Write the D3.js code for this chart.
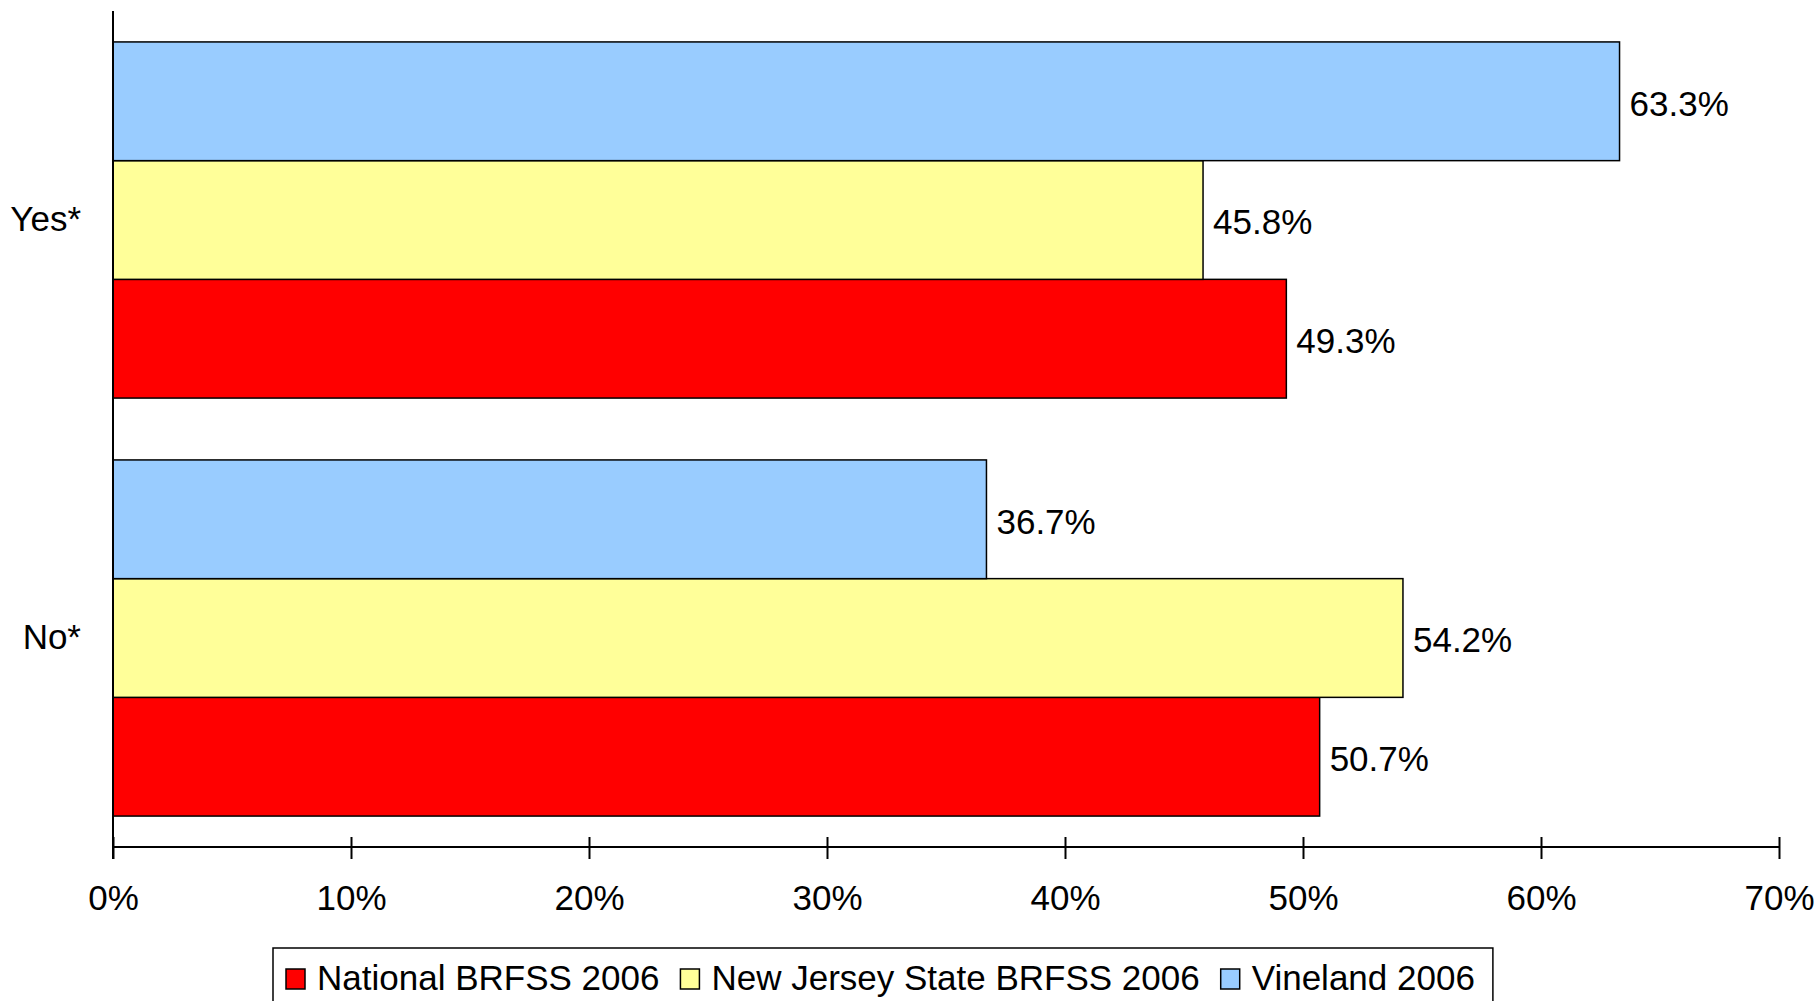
<!DOCTYPE html>
<html>
<head>
<meta charset="utf-8">
<script src="https://cdn.jsdelivr.net/npm/d3@7"></script>
<style>
  html, body { margin: 0; padding: 0; background: #fff; }
  svg { display: block; font-family: "Liberation Sans", Arial, sans-serif; }
</style>
</head>
<body>
<svg id="chart"></svg>
<script>
const categories = ["Yes*", "No*"];
const seriesNames = ["National BRFSS 2006", "New Jersey State BRFSS 2006", "Vineland 2006"];
const seriesColors = ["#ff0000", "#ffff99", "#99ccff"];
const national = [49.3, 50.7];
const newJersey = [45.8, 54.2];
const vineland = [63.3, 36.7];
const xTicks = [0, 10, 20, 30, 40, 50, 60, 70];

const width = 1820;
const height = 1001;
const margin = { top: 11, left: 113, right: 41, bottom: 154 };
const fontSize = "35px";

const svg = d3.select("#chart").attr("width", width).attr("height", height);

const innerWidth = width - margin.left - margin.right;
const innerHeight = height - margin.top - margin.bottom;

const chartArea = svg.append("g").attr("transform", `translate(${margin.left},${margin.top})`);

const seriesValues = [national, newJersey, vineland];

// rows: one per category / series
const rows = [];
categories.forEach((c, i) => {
  seriesNames.forEach((s, j) => {
    rows.push({ cat: c, series: s, idx: j, value: seriesValues[j][i] });
  });
});

const xScale = d3.scaleLinear().domain([0, 70]).range([0, innerWidth]);

const yScale = d3
  .scaleBand()
  .domain(categories)
  .range([0, innerHeight])
  .paddingInner(0.148)
  .paddingOuter(0.074);

// top to bottom: Vineland, New Jersey, National
const inner = d3
  .scaleBand()
  .domain(seriesNames.slice().reverse())
  .range([0, yScale.bandwidth()]);

// Bars
chartArea
  .selectAll(".bar")
  .data(rows)
  .enter()
  .append("rect")
  .attr("class", "bar")
  .attr("x", 0)
  .attr("y", (d) => yScale(d.cat) + inner(d.series))
  .attr("width", (d) => xScale(d.value))
  .attr("height", inner.bandwidth())
  .attr("fill", (d) => seriesColors[d.idx])
  .attr("stroke", "#000")
  .attr("stroke-width", 1.5);

// Value labels
chartArea
  .selectAll(".val")
  .data(rows)
  .enter()
  .append("text")
  .attr("class", "val")
  .attr("x", (d) => xScale(d.value) + 10)
  .attr("y", (d) => yScale(d.cat) + inner(d.series) + inner.bandwidth() / 2 + 2)
  .attr("dy", "0.35em")
  .style("font-size", fontSize)
  .style("fill", "#000")
  .text((d) => d.value.toFixed(1) + "%");

// X axis
const xAxis = chartArea
  .append("g")
  .attr("transform", `translate(0,${innerHeight})`)
  .call(
    d3.axisBottom(xScale)
      .tickValues(xTicks)
      .tickSize(12)
      .tickPadding(26)
      .tickFormat((d) => d + "%")
  );
xAxis.select(".domain").attr("stroke", "#000").attr("stroke-width", 2).attr("d", `M0,0H${innerWidth}`);
xAxis.selectAll(".tick line").attr("stroke", "#000").attr("stroke-width", 2).attr("y1", -10);
xAxis.selectAll("text").style("font-size", fontSize).style("fill", "#000").attr("font-family", null);

// Y axis
const yAxis = chartArea.append("g").call(d3.axisLeft(yScale).tickSize(0).tickPadding(32));
yAxis.select(".domain").attr("stroke", "#000").attr("stroke-width", 2).attr("d", `M0,0V${innerHeight + 12}`);
yAxis.selectAll("text").style("font-size", fontSize).style("fill", "#000").attr("font-family", null);

// Legend
const legend = svg.append("g").attr("transform", "translate(273,948)");
const legendBox = legend.append("rect")
  .attr("x", 0).attr("y", 0)
  .attr("height", 80)
  .attr("fill", "#fff")
  .attr("stroke", "#000")
  .attr("stroke-width", 1.5);

let lx = 13;
let lastEnd = 0;
seriesNames.forEach((name, i) => {
  legend.append("rect")
    .attr("x", lx).attr("y", 21)
    .attr("width", 19).attr("height", 20)
    .attr("fill", seriesColors[i])
    .attr("stroke", "#000")
    .attr("stroke-width", 1.5);
  const t = legend.append("text")
    .attr("x", lx + 31)
    .attr("y", 42)
    .style("font-size", fontSize)
    .style("fill", "#000")
    .text(name);
  lastEnd = lx + 31 + t.node().getComputedTextLength();
  lx = lastEnd + 21;
});
legendBox.attr("width", lastEnd + 18);
</script>
</body>
</html>
